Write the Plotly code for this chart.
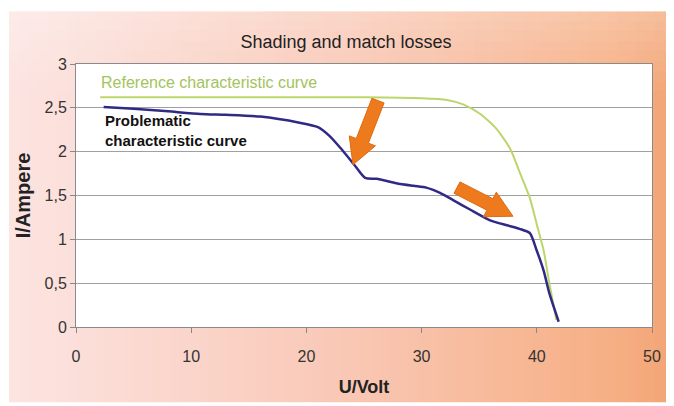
import math
import plotly.graph_objects as go

# ---- data ----
U_ref = [2.1, 5, 10, 15, 20, 25, 30, 32.2, 33.6, 35.1, 36.5, 37.7, 38.5, 39.4, 40.0, 40.6, 41.1, 41.7]
I_ref = [2.62, 2.62, 2.62, 2.62, 2.62, 2.62, 2.61, 2.59, 2.54, 2.43, 2.26, 2.03, 1.77, 1.47, 1.17, 0.87, 0.49, 0.08]

U_prob = [2.4, 5, 8, 10.8, 13, 16, 19.4, 21, 22, 22.9, 24.1, 25.1, 26.1, 27.8, 29.3, 30.4,
          31.6, 32.7, 34.2, 35.9, 37.4, 38.5, 39.4, 40.0, 40.6, 41.1, 41.9]
I_prob = [2.51, 2.49, 2.46, 2.43, 2.42, 2.40, 2.33, 2.28, 2.18, 2.05, 1.86, 1.70, 1.69, 1.64, 1.61, 1.59,
          1.53, 1.45, 1.34, 1.22, 1.16, 1.12, 1.07, 0.87, 0.64, 0.38, 0.06]

x_ticks = [0, 10, 20, 30, 40, 50]
y_ticks = [0, 0.5, 1, 1.5, 2, 2.5, 3]
y_ticktext = ["0", "0,5", "1", "1,5", "2", "2,5", "3"]

TITLE = "Shading and match losses"
X_TITLE = "U/Volt"
Y_TITLE = "I/Ampere"
REF_LABEL = "Reference characteristic curve"
PROB_LABEL = "Problematic<br>characteristic curve"

# ---- layout geometry (pixels); page body has an 8px margin ----
OFF = 8
W, H = 674 - OFF, 406 - OFF
L, R, T, B = 68, 22, 56, 76
PW, PH = W - L - R, H - T - B

def px2paper(px, py):
    """reference-screen pixel -> paper coords"""
    return (px - OFF - L) / PW, (H - B - (py - OFF)) / PH

FONT = "Liberation Sans, Arial, sans-serif"

def lerp(c1, c2, t):
    return tuple(round(a + (b - a) * t) for a, b in zip(c1, c2))

def grad(t):
    stops = [(0.0, (252, 228, 225)), (0.5, (249, 200, 182)), (0.9, (246, 176, 134)), (1.0, (243, 166, 118))]
    for (t0, c0), (t1, c1) in zip(stops[:-1], stops[1:]):
        if t <= t1:
            return lerp(c0, c1, (t - t0) / (t1 - t0))
    return stops[-1][1]

shapes = []
N = 70
x_start, x_end = 9, 674
for i in range(N):
    a = x_start + (x_end - x_start) * i / N
    b = x_start + (x_end - x_start) * (i + 1) / N + 0.6
    c = grad(i / (N - 1))
    x0, y0 = px2paper(a, 406)
    x1, y1 = px2paper(b, 11)
    shapes.append(dict(type="rect", xref="paper", yref="paper", x0=x0, x1=x1, y0=y0, y1=y1,
                       fillcolor="rgb(%d,%d,%d)" % c, line=dict(width=0), layer="below"))
for k in range(8):
    ya = 11 + k * 10
    x0, y0 = px2paper(9, ya + 10)
    x1, y1 = px2paper(674, ya)
    shapes.append(dict(type="rect", xref="paper", yref="paper", x0=x0, x1=x1, y0=y0, y1=y1,
                       fillcolor="rgba(255,255,255,%.3f)" % (0.25 * (1 - k / 8)), line=dict(width=0), layer="below"))
shapes.append(dict(type="rect", xref="paper", yref="paper", x0=0, x1=1, y0=0, y1=1,
                   fillcolor="white", line=dict(width=0), layer="below"))

def arrow(tail, tip, sw=6.5, hw=14, hl=26):
    dx, dy = tip[0] - tail[0], tip[1] - tail[1]
    Ln = math.hypot(dx, dy)
    ux, uy = dx / Ln, dy / Ln
    nx, ny = -uy, ux
    hx, hy = tip[0] - ux * hl, tip[1] - uy * hl
    pts = [
        (tail[0] + nx * sw, tail[1] + ny * sw),
        (hx + nx * sw, hy + ny * sw),
        (hx + nx * hw, hy + ny * hw),
        tip,
        (hx - nx * hw, hy - ny * hw),
        (hx - nx * sw, hy - ny * sw),
        (tail[0] - nx * sw, tail[1] - ny * sw),
    ]
    pp = [px2paper(*p) for p in pts]
    path = "M " + " L ".join("%.5f,%.5f" % p for p in pp) + " Z"
    return dict(type="path", xref="paper", yref="paper", path=path,
                fillcolor="#ee7a1e", line=dict(color="#e06a10", width=1), layer="above")

shapes.append(arrow((378, 101), (353, 166)))
shapes.append(arrow((457, 189), (513, 218)))

fig = go.Figure()
fig.add_trace(go.Scatter(x=U_ref, y=I_ref, mode="lines",
                         line=dict(color="#bcd66c", width=2, shape="spline", smoothing=0.6),
                         hoverinfo="skip", showlegend=False))
fig.add_trace(go.Scatter(x=U_prob, y=I_prob, mode="lines",
                         line=dict(color="#2e2a86", width=2.5, shape="spline", smoothing=0.6),
                         hoverinfo="skip", showlegend=False))

annotations = [
    dict(text=REF_LABEL, xref="paper", yref="paper", x=px2paper(99, 0)[0], y=px2paper(0, 83)[1],
         xanchor="left", yanchor="middle", showarrow=False, font=dict(family=FONT, size=16, color="#a3c35c")),
    dict(text=PROB_LABEL, xref="paper", yref="paper", x=px2paper(103, 0)[0], y=px2paper(0, 131)[1],
         xanchor="left", yanchor="middle", align="left", showarrow=False,
         font=dict(family=FONT, size=15, color="#111111", weight="bold")),
]

fig.update_layout(
    width=W, height=H,
    margin=dict(l=L, r=R, t=T, b=B),
    paper_bgcolor="white", plot_bgcolor="white",
    separators=",.",
    title=dict(text=TITLE, x=px2paper(346, 0)[0], xref="paper", xanchor="center",
               y=1 - (42 - OFF) / H, yanchor="middle",
               font=dict(family=FONT, size=18, color="#222222")),
    xaxis=dict(range=[0, 50], tickvals=x_ticks, ticks="outside", ticklen=5, tickcolor="#888888",
               showgrid=False, zeroline=False, showline=True, linecolor="#8a8a8a", linewidth=1, mirror=True,
               tickfont=dict(family=FONT, size=16, color="#333333"), ticklabelstandoff=10,
               title=dict(text=X_TITLE, font=dict(family=FONT, size=18, color="#222222", weight="bold"), standoff=16)),
    yaxis=dict(range=[0, 3], tickvals=y_ticks, ticktext=y_ticktext, ticks="outside", ticklen=5, tickcolor="#888888",
               showgrid=True, gridcolor="#a0a0a0", gridwidth=1, zeroline=False, showline=True,
               linecolor="#8a8a8a", linewidth=1, mirror=True,
               tickfont=dict(family=FONT, size=16, color="#333333"),
               title=dict(text=Y_TITLE, font=dict(family=FONT, size=20, color="#222222", weight="bold"), standoff=8)),
    shapes=shapes,
    annotations=annotations,
)

fig.write_html("out.html")
